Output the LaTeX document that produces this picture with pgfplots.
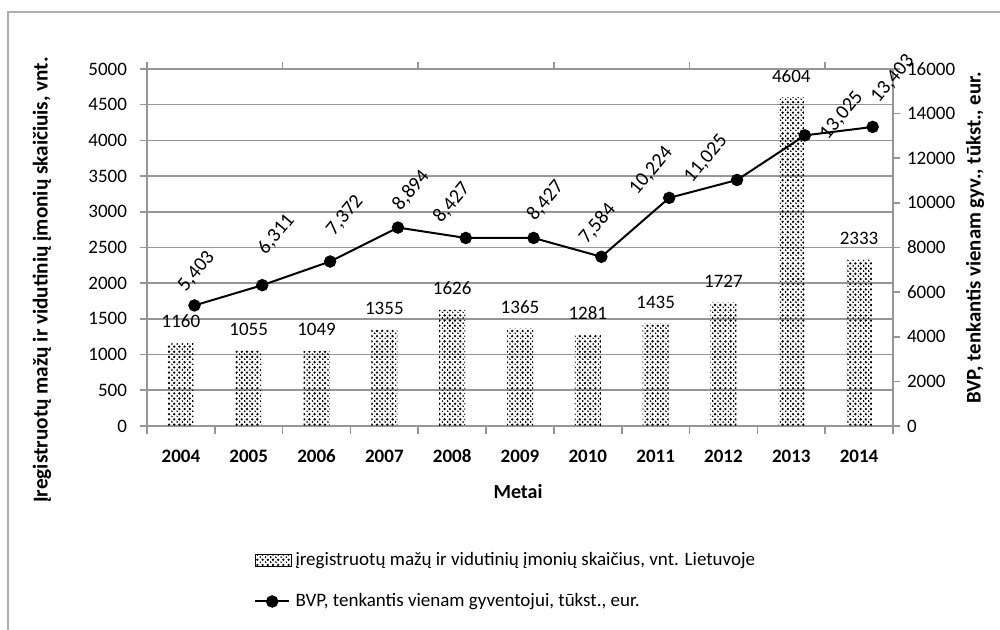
\documentclass[border=0pt]{standalone}
\usepackage{fontspec}
\setmainfont{Carlito}
\usepackage{pgfplots}
\pgfplotsset{compat=1.18}
\usepackage{pgfplotstable}
\usetikzlibrary{patterns.meta}

\definecolor{axgray}{RGB}{150,150,150}
\definecolor{framegray}{RGB}{175,175,175}

\pgfdeclarepattern{
  name=finedots,
  parameters={},
  bottom left={\pgfpoint{-0.1pt}{-0.1pt}},
  top right={\pgfpoint{2.7pt}{2.7pt}},
  tile size={\pgfpoint{2.6pt}{2.6pt}},
  code={
    \pgfpathcircle{\pgfpoint{0pt}{0pt}}{0.65pt}
    \pgfpathcircle{\pgfpoint{1.3pt}{1.3pt}}{0.65pt}
    \pgfusepath{fill}
  }
}

% registered SMEs (left axis)
\pgfplotstableread{
x y lab
0 1160 1160
1 1055 1055
2 1049 1049
3 1355 1355
4 1626 1626
5 1365 1365
6 1281 1281
7 1435 1435
8 1727 1727
9 4604 4604
10 2333 2333
}\smes

% GDP per capita (right axis), drawn a little right of the bar centres;
% dx, dy: where each label sits relative to its point (pt)
\pgfplotstableread{
x y lab dx dy
0.2 5403 5,403 1 17
1.2 6311 6,311 7 25.5
2.2 7372 7,372 7.5 23
3.2 8894 8,894 6.5 18.5
4.2 8427 8,427 -7 17.5
5.2 8427 8,427 6 18.5
6.2 7584 7,584 -2 16.5
7.2 10224 10,224 -9 13.5
8.2 11025 11,025 -15.5 10.5
9.2 13025 13,025 18.5 10
10.2 13403 13,403 10 24
}\bvp

\begin{document}
\begin{tikzpicture}
\useasboundingbox (-73.5pt,-102pt) rectangle (426.5pt,213pt);
\draw[framegray, line width=1pt] (-69.5pt,-102pt) -- (-69.5pt,207pt) -- (426.5pt,207pt);

\pgfplotsset{
  common/.style={
    at={(0,0)}, anchor=south west,
    scale only axis, width=373pt, height=178.5pt,
    xmin=-0.5, xmax=10.5, ymin=0,
    tick align=outside,
    axis line style={axgray, line width=0.8pt},
    tick style={axgray, line width=0.8pt},
    major tick length=3.5pt, minor tick length=4pt,
    scaled y ticks=false,
    /pgf/number format/assume math mode=true,
    /pgf/number format/1000 sep={},
    ticklabel style={font=\fontsize{9.5}{11}\selectfont},
  }
}

\begin{axis}[
  common,
  ymax=5000, ytick={0,500,...,5000},
  xtick={0,...,10},
  xticklabels={2004,2005,2006,2007,2008,2009,2010,2011,2012,2013,2014},
  xticklabel style={font=\bfseries\fontsize{9.5}{11}\selectfont, text height=1.5ex, text depth=0pt, yshift=-4pt},
  yticklabel style={xshift=-3pt},
  every major x tick/.append style={draw=none},
  minor xtick={-0.5,0.5,...,10.5},
  xtick pos=bottom, ytick pos=left,
  ymajorgrids, grid style={axgray, line width=0.8pt},
]
\addplot[ybar, bar width=13pt, draw=none, pattern=finedots, pattern color=black,
  nodes near coords, point meta=explicit symbolic,
  every node near coord/.append style={font=\fontsize{9.5}{11}\selectfont, black, yshift=4pt}]
  table[x=x, y=y, meta=lab] {\smes};
\end{axis}

\begin{axis}[
  common,
  ymax=16000, ytick={0,2000,...,16000},
  axis y line*=right, axis x line*=top,
  xtick={-0.5,1.5,...,9.5}, xticklabels={},
  legend style={draw=none, fill=none, at={(axis description cs:0.135,-0.33)}, anchor=north west,
    font=\fontsize{9.5}{11}\selectfont, row sep=8.5pt, cells={anchor=west}},
]
\addlegendimage{legend image code/.code={\fill[pattern=finedots, pattern color=black] (0pt,-2.8pt) rectangle (18pt,2.8pt);}}
\addlegendentry{įregistruotų mažų ir vidutinių įmonių skaičius, vnt. Lietuvoje}
\addplot[black, line width=1pt, mark=*, mark size=2.6pt,
  nodes near coords, point meta=explicit symbolic,
  visualization depends on={\thisrow{dx} \as \labdx},
  visualization depends on={\thisrow{dy} \as \labdy},
  every node near coord/.append style={font=\fontsize{10}{12}\selectfont, anchor=center,
    xshift=\labdx pt, yshift=\labdy pt, rotate=50}]
  table[x=x, y=y, meta=lab] {\bvp};
\addlegendentry{BVP, tenkantis vienam gyventojui, tūkst., eur.}
\end{axis}

\node[font=\bfseries\fontsize{10}{12}\selectfont] at (185.5pt,-33pt) {Metai};
\node[font=\bfseries\fontsize{10.6}{12}\selectfont, rotate=90] at (-52.5pt,73pt) {Įregistruotų mažų ir vidutinių įmonių skaičiuis, vnt.};
\node[font=\bfseries\fontsize{10.4}{12}\selectfont, rotate=90] at (414pt,94pt) {BVP, tenkantis vienam gyv., tūkst., eur.};
\end{tikzpicture}
\end{document}
